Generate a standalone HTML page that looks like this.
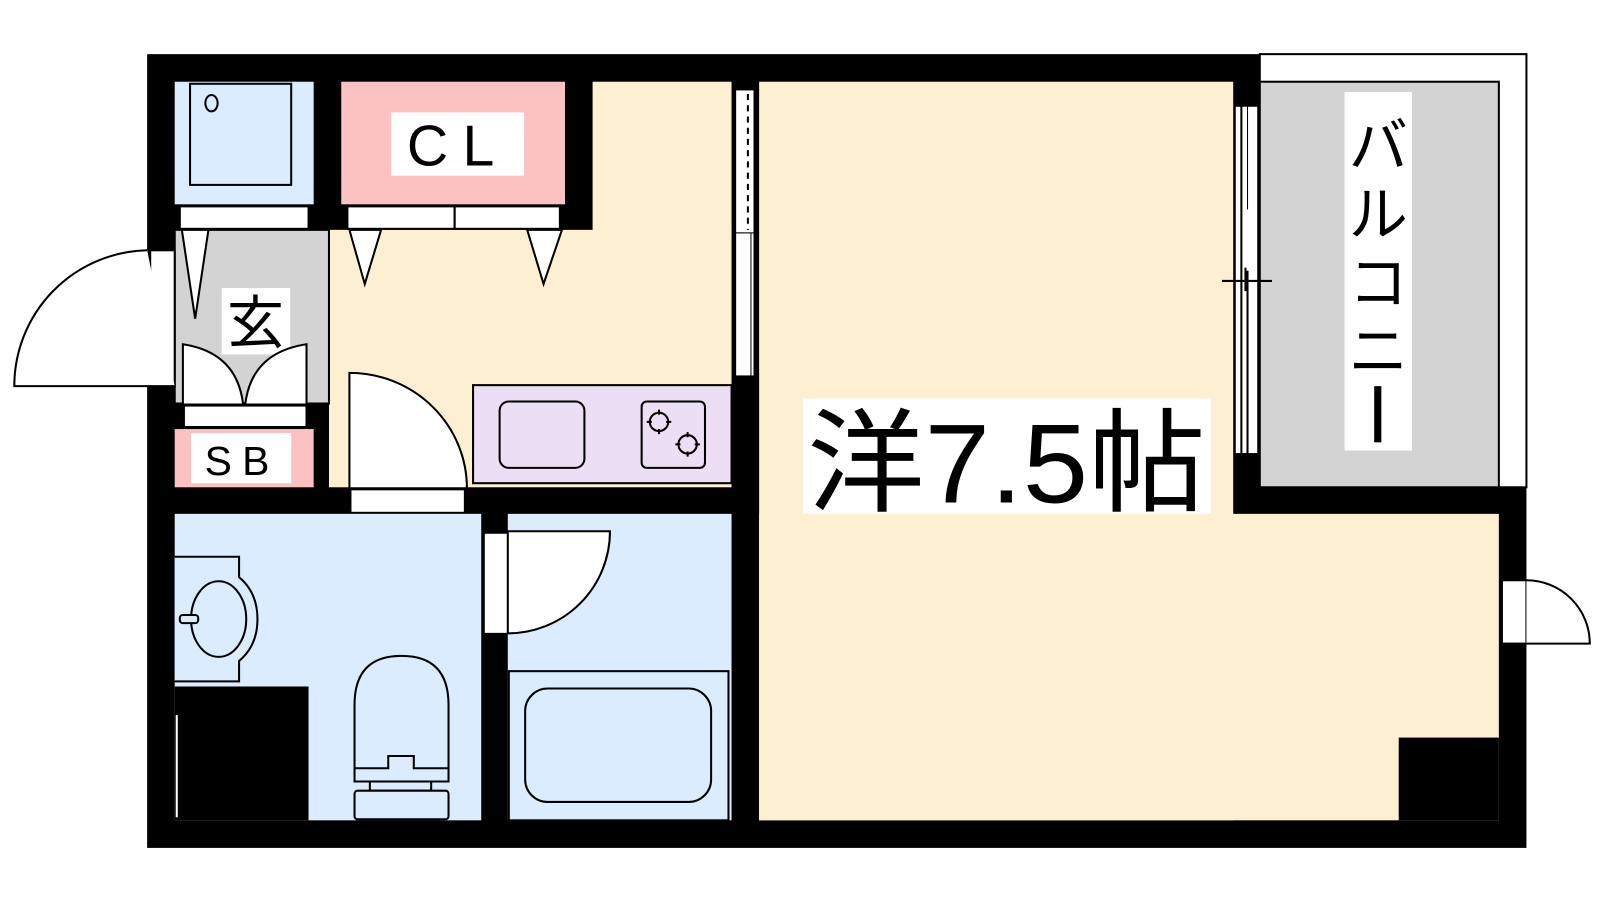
<!DOCTYPE html>
<html><head><meta charset="utf-8"><style>body{margin:0;background:#fff}svg{display:block}text{font-family:"Liberation Sans","Noto Sans CJK JP",sans-serif;fill:#000}</style></head><body>
<svg width="1600" height="900" viewBox="0 0 1566 881" preserveAspectRatio="none" xmlns="http://www.w3.org/2000/svg">
<rect width="1566" height="881" fill="#fff"/>
<rect x="144" y="53" width="1350" height="777" fill="#000"/>
<rect x="1233" y="53" width="261" height="424" fill="#fff" stroke="#000" stroke-width="2"/>
<rect x="1233" y="80" width="234" height="397" fill="#d3d3d3" stroke="#000" stroke-width="2"/>
<rect x="743" y="80" width="464" height="723" fill="#fdf0d2"/>
<rect x="743" y="503" width="724" height="300" fill="#fdf0d2"/>
<rect x="1369" y="722" width="98" height="81" fill="#000"/>
<rect x="322" y="225" width="394" height="252" fill="#fdf0d2"/>
<rect x="580" y="80" width="136" height="150" fill="#fdf0d2"/>
<rect x="171" y="80" width="136" height="120" fill="#dbecff"/>
<rect x="186" y="82" width="99" height="99" fill="none" stroke="#000" stroke-width="2"/>
<ellipse cx="207" cy="101" rx="6" ry="8" fill="none" stroke="#000" stroke-width="2"/>
<rect x="334" y="80" width="219" height="120" fill="#fcc2c2"/>
<rect x="383" y="110" width="130" height="62" fill="#fff"/>
<text x="448" y="162" font-size="56" text-anchor="middle" letter-spacing="14">CL</text>
<rect x="176" y="202" width="126" height="22" fill="#fff" stroke="#000" stroke-width="2"/>
<rect x="340" y="202" width="105" height="22" fill="#fff" stroke="#000" stroke-width="2"/>
<rect x="445" y="202" width="103" height="22" fill="#fff" stroke="#000" stroke-width="2"/>
<rect x="171" y="225" width="151" height="170" fill="#d3d3d3" stroke="#000" stroke-width="2"/>
<polygon points="178,225 204,225 191,312" fill="#fff" stroke="#000" stroke-width="2"/>
<polygon points="342,225 373,225 357,278" fill="#fff" stroke="#000" stroke-width="2"/>
<polygon points="516,225 550,225 532,278" fill="#fff" stroke="#000" stroke-width="2"/>
<rect x="217" y="282" width="67" height="65" fill="#fff"/>
<text x="250" y="336" font-size="56" text-anchor="middle">玄</text>
<path d="M179,337 L179,396 L238,396 Q232,345 179,337 Z" fill="#fff" stroke="#000" stroke-width="2"/>
<path d="M300,337 L300,396 L240,396 Q246,345 300,337 Z" fill="#fff" stroke="#000" stroke-width="2"/>
<rect x="180" y="397" width="120" height="21" fill="#fff" stroke="#000" stroke-width="2"/>
<rect x="171" y="420" width="136" height="57" fill="#fcc2c2"/>
<rect x="187" y="424" width="98" height="49" fill="#fff"/>
<text x="237" y="465" font-size="40" text-anchor="middle" letter-spacing="10">SB</text>
<rect x="147" y="245" width="24" height="133" fill="#fff" stroke="#000" stroke-width="2"/>
<path d="M144,245 A133,133 0 0 0 14,378 L171,378" fill="#fff" stroke="#000" stroke-width="2"/>
<path d="M342,478 L342,365 A115,113 0 0 1 457,478 Z" fill="#fff" stroke="#000" stroke-width="2"/>
<rect x="343" y="479" width="112" height="23" fill="#fff" stroke="#000" stroke-width="2"/>
<rect x="463" y="377" width="253" height="96" fill="#ecdff5" stroke="#000" stroke-width="2"/>
<rect x="489" y="393" width="83" height="65" rx="9" fill="none" stroke="#000" stroke-width="2"/>
<rect x="628" y="393" width="62" height="65" rx="5" fill="none" stroke="#000" stroke-width="2"/>
<g fill="none" stroke="#000" stroke-width="2"><circle cx="645" cy="413" r="9"/><circle cx="673" cy="435" r="9"/>
<path d="M645,401v5M645,420v5M633,413h5M652,413h5M673,423v5M673,442v5M661,435h5M680,435h5"/></g>
<rect x="720" y="88" width="18" height="140" fill="#fff" stroke="#000" stroke-width="1"/>
<line x1="732" y1="92" x2="732" y2="225" stroke="#000" stroke-width="2" stroke-dasharray="6,5"/>
<rect x="720" y="228" width="18" height="140" fill="#fff" stroke="#000" stroke-width="1"/>
<line x1="735" y1="228" x2="735" y2="368" stroke="#000" stroke-width="1"/>
<rect x="171" y="503" width="300" height="300" fill="#dbecff"/>
<rect x="171" y="672" width="131" height="131" fill="#000"/>
<line x1="173" y1="700" x2="173" y2="800" stroke="#fff" stroke-width="2"/>
<path d="M171,545 L234,545 L234,565 Q252,580 252,606 Q252,632 234,647 L234,667 L171,667" fill="#dbecff" stroke="#000" stroke-width="2"/>
<ellipse cx="214" cy="606" rx="27" ry="37" fill="none" stroke="#000" stroke-width="2"/>
<rect x="176" y="602" width="18" height="8" rx="3" fill="#dbecff" stroke="#000" stroke-width="2"/>
<path d="M347,765 L347,690 Q347,642 393,642 Q439,642 439,690 L439,765 Z" fill="#dbecff" stroke="#000" stroke-width="2"/>
<path d="M347,752 L380,752 L380,740 L405,740 L405,752 L439,752" fill="none" stroke="#000" stroke-width="2"/>
<rect x="362" y="765" width="60" height="9" fill="none" stroke="#000" stroke-width="2"/>
<rect x="347" y="774" width="92" height="28" rx="3" fill="#dbecff" stroke="#000" stroke-width="2"/>
<rect x="497" y="503" width="219" height="300" fill="#dbecff"/>
<rect x="474" y="522" width="23" height="98" fill="#fff" stroke="#000" stroke-width="1"/>
<path d="M497,620 L497,520 L597,520 A100,100 0 0 1 497,620 Z" fill="#fff" stroke="#000" stroke-width="2"/>
<rect x="498" y="657" width="215" height="146" fill="none" stroke="#000" stroke-width="2"/>
<rect x="514" y="674" width="182" height="111" rx="22" fill="none" stroke="#000" stroke-width="2"/>
<rect x="1209" y="104" width="22" height="340" fill="#fff" stroke="#000" stroke-width="1"/>
<line x1="1215" y1="104" x2="1215" y2="444" stroke="#000" stroke-width="2"/>
<line x1="1221" y1="104" x2="1221" y2="205" stroke="#000" stroke-width="1"/>
<line x1="1221" y1="265" x2="1221" y2="444" stroke="#000" stroke-width="2"/>
<line x1="1196" y1="275" x2="1245" y2="275" stroke="#000" stroke-width="2"/>
<line x1="1219" y1="262" x2="1219" y2="285" stroke="#000" stroke-width="2"/>
<rect x="1316" y="90" width="66" height="351" fill="#fff"/>
<text font-size="58" text-anchor="middle"><tspan x="1349" y="163">バ</tspan><tspan x="1349" y="230">ル</tspan><tspan x="1349" y="297">コ</tspan><tspan x="1349" y="364">ニ</tspan></text>
<rect x="1345" y="378" width="7" height="55" fill="#000"/>
<rect x="1470" y="568" width="24" height="62" fill="#fff" stroke="#000" stroke-width="2"/>
<path d="M1494,568 A62,62 0 0 1 1556,630 L1494,630" fill="#fff" stroke="#000" stroke-width="2"/>
<rect x="786" y="390" width="399" height="113" fill="#fff"/>
<text x="790" y="492" font-size="110" textLength="390" lengthAdjust="spacingAndGlyphs">洋7.5帖</text>
</svg>
</body></html>
